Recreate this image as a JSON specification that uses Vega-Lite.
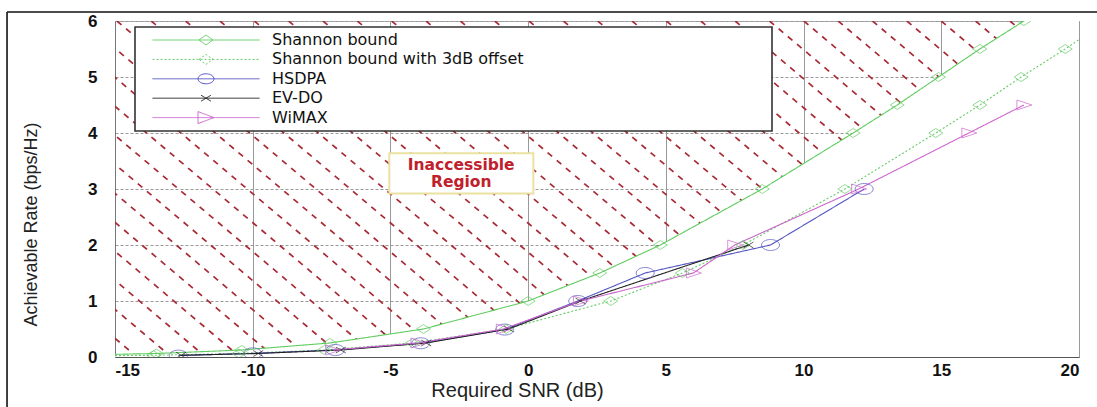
{
  "$schema": "https://vega.github.io/schema/vega-lite/v6.json",
  "width": 964,
  "height": 336,
  "autosize": "none",
  "padding": {"left": 115, "top": 21, "right": 18, "bottom": 50},
  "background": "white",
  "config": {
    "font": "Liberation Sans",
    "view": {"stroke": "#b0b0b0", "strokeWidth": 1},
    "axis": {"zindex": 1}
  },
  "datasets": {
    "curves": [
      {"series": "Shannon bound", "snr": -16.6, "rate": 0.031},
      {"series": "Shannon bound", "snr": -13.5, "rate": 0.0625},
      {"series": "Shannon bound", "snr": -10.4, "rate": 0.125},
      {"series": "Shannon bound", "snr": -7.2, "rate": 0.25},
      {"series": "Shannon bound", "snr": -3.8, "rate": 0.5},
      {"series": "Shannon bound", "snr": 0.0, "rate": 1.0},
      {"series": "Shannon bound", "snr": 2.6, "rate": 1.5},
      {"series": "Shannon bound", "snr": 4.8, "rate": 2.0},
      {"series": "Shannon bound", "snr": 8.5, "rate": 3.0},
      {"series": "Shannon bound", "snr": 11.8, "rate": 4.0},
      {"series": "Shannon bound", "snr": 13.4, "rate": 4.5},
      {"series": "Shannon bound", "snr": 14.9, "rate": 5.0},
      {"series": "Shannon bound", "snr": 16.4, "rate": 5.5},
      {"series": "Shannon bound", "snr": 18.0, "rate": 6.0},
      {"series": "Shannon bound", "snr": 19.5, "rate": 6.5},
      {"series": "Shannon bound", "snr": 21.0, "rate": 7.0},
      {"series": "Shannon bound with 3dB offset", "snr": -16.6, "rate": 0.016},
      {"series": "Shannon bound with 3dB offset", "snr": -13.6, "rate": 0.031},
      {"series": "Shannon bound with 3dB offset", "snr": -10.5, "rate": 0.0625},
      {"series": "Shannon bound with 3dB offset", "snr": -7.4, "rate": 0.125},
      {"series": "Shannon bound with 3dB offset", "snr": -4.2, "rate": 0.25},
      {"series": "Shannon bound with 3dB offset", "snr": -0.8, "rate": 0.5},
      {"series": "Shannon bound with 3dB offset", "snr": 3.0, "rate": 1.0},
      {"series": "Shannon bound with 3dB offset", "snr": 5.6, "rate": 1.5},
      {"series": "Shannon bound with 3dB offset", "snr": 7.8, "rate": 2.0},
      {"series": "Shannon bound with 3dB offset", "snr": 11.5, "rate": 3.0},
      {"series": "Shannon bound with 3dB offset", "snr": 14.8, "rate": 4.0},
      {"series": "Shannon bound with 3dB offset", "snr": 16.4, "rate": 4.5},
      {"series": "Shannon bound with 3dB offset", "snr": 17.9, "rate": 5.0},
      {"series": "Shannon bound with 3dB offset", "snr": 19.5, "rate": 5.5},
      {"series": "Shannon bound with 3dB offset", "snr": 21.0, "rate": 6.0},
      {"series": "HSDPA", "snr": -12.7, "rate": 0.025},
      {"series": "HSDPA", "snr": -10.0, "rate": 0.065},
      {"series": "HSDPA", "snr": -7.0, "rate": 0.125},
      {"series": "HSDPA", "snr": -3.9, "rate": 0.245},
      {"series": "HSDPA", "snr": -0.85, "rate": 0.49},
      {"series": "HSDPA", "snr": 1.8, "rate": 1.0},
      {"series": "HSDPA", "snr": 4.25, "rate": 1.5},
      {"series": "HSDPA", "snr": 8.8, "rate": 2.0},
      {"series": "HSDPA", "snr": 12.2, "rate": 3.0},
      {"series": "EV-DO", "snr": -12.6, "rate": 0.031},
      {"series": "EV-DO", "snr": -9.8, "rate": 0.0625},
      {"series": "EV-DO", "snr": -6.8, "rate": 0.125},
      {"series": "EV-DO", "snr": -3.7, "rate": 0.25},
      {"series": "EV-DO", "snr": -0.7, "rate": 0.5},
      {"series": "EV-DO", "snr": 1.9, "rate": 1.0},
      {"series": "EV-DO", "snr": 8.0, "rate": 2.0},
      {"series": "WiMAX", "snr": -7.1, "rate": 0.125},
      {"series": "WiMAX", "snr": -4.0, "rate": 0.25},
      {"series": "WiMAX", "snr": -0.9, "rate": 0.5},
      {"series": "WiMAX", "snr": 1.9, "rate": 1.0},
      {"series": "WiMAX", "snr": 6.0, "rate": 1.5},
      {"series": "WiMAX", "snr": 7.5, "rate": 2.0},
      {"series": "WiMAX", "snr": 12.0, "rate": 3.0},
      {"series": "WiMAX", "snr": 16.0, "rate": 4.0},
      {"series": "WiMAX", "snr": 18.0, "rate": 4.5}
    ],
    "hatch": [
      {"x": -28.647, "y": 6, "x2": -14.197, "y2": 0},
      {"x": -27.4, "y": 6, "x2": -12.95, "y2": 0},
      {"x": -26.153, "y": 6, "x2": -11.703, "y2": 0},
      {"x": -24.906, "y": 6, "x2": -10.456, "y2": 0},
      {"x": -23.659, "y": 6, "x2": -9.209, "y2": 0},
      {"x": -22.412, "y": 6, "x2": -7.962, "y2": 0},
      {"x": -21.165, "y": 6, "x2": -6.715, "y2": 0},
      {"x": -19.918, "y": 6, "x2": -5.468, "y2": 0},
      {"x": -18.671, "y": 6, "x2": -4.221, "y2": 0},
      {"x": -17.424, "y": 6, "x2": -2.974, "y2": 0},
      {"x": -16.177, "y": 6, "x2": -1.727, "y2": 0},
      {"x": -14.93, "y": 6, "x2": -0.48, "y2": 0},
      {"x": -13.683, "y": 6, "x2": 0.767, "y2": 0},
      {"x": -12.436, "y": 6, "x2": 2.014, "y2": 0},
      {"x": -11.189, "y": 6, "x2": 3.261, "y2": 0},
      {"x": -9.942, "y": 6, "x2": 4.508, "y2": 0},
      {"x": -8.695, "y": 6, "x2": 5.755, "y2": 0},
      {"x": -7.448, "y": 6, "x2": 7.002, "y2": 0},
      {"x": -6.201, "y": 6, "x2": 8.249, "y2": 0},
      {"x": -4.954, "y": 6, "x2": 9.496, "y2": 0},
      {"x": -3.707, "y": 6, "x2": 10.743, "y2": 0},
      {"x": -2.46, "y": 6, "x2": 11.99, "y2": 0},
      {"x": -1.213, "y": 6, "x2": 13.237, "y2": 0},
      {"x": 0.034, "y": 6, "x2": 14.484, "y2": 0},
      {"x": 1.281, "y": 6, "x2": 15.731, "y2": 0},
      {"x": 2.528, "y": 6, "x2": 16.978, "y2": 0},
      {"x": 3.775, "y": 6, "x2": 18.225, "y2": 0},
      {"x": 5.022, "y": 6, "x2": 19.472, "y2": 0},
      {"x": 6.269, "y": 6, "x2": 20.719, "y2": 0},
      {"x": 7.516, "y": 6, "x2": 21.966, "y2": 0},
      {"x": 8.763, "y": 6, "x2": 23.213, "y2": 0},
      {"x": 10.01, "y": 6, "x2": 24.46, "y2": 0},
      {"x": 11.257, "y": 6, "x2": 25.707, "y2": 0},
      {"x": 12.504, "y": 6, "x2": 26.954, "y2": 0},
      {"x": 13.751, "y": 6, "x2": 28.201, "y2": 0},
      {"x": 14.998, "y": 6, "x2": 29.448, "y2": 0},
      {"x": 16.245, "y": 6, "x2": 30.695, "y2": 0},
      {"x": 17.492, "y": 6, "x2": 31.942, "y2": 0}
    ],
    "note": [{"label": "Inaccessible\nRegion"}]
  },
  "layer": [
    {
      "data": {"name": "hatch"},
      "mark": {"type": "rule", "clip": true, "color": "#a82a35", "strokeWidth": 1.7, "strokeDash": [6, 6]},
      "encoding": {
        "x": {
          "field": "x", "type": "quantitative",
          "title": "Required SNR (dB)",
          "scale": {"domain": [-15, 20], "nice": false, "zero": false},
          "axis": {
            "values": [-15, -10, -5, 0, 5, 10, 15, 20],
            "labelExpr": "'' + datum.value",
            "grid": true, "gridColor": "#999999", "gridWidth": 1,
            "ticks": false,
            "domainColor": "#555555", "domainWidth": 1.2,
            "labelFont": "Liberation Sans", "labelFontSize": 17, "labelFontWeight": "bold", "labelColor": "#111111",
            "labelPadding": 5,
            "titleFont": "Liberation Sans", "titleFontSize": 20, "titleFontWeight": "normal", "titleColor": "#222222",
            "titleX": 402, "titleY": 33, "titleBaseline": "middle", "titleAlign": "center"
          }
        },
        "x2": {"field": "x2"},
        "y": {
          "field": "y", "type": "quantitative",
          "title": "Achievable Rate (bps/Hz)",
          "scale": {"domain": [0, 6], "nice": false, "zero": false},
          "axis": {
            "values": [0, 1, 2, 3, 4, 5, 6],
            "format": "d",
            "grid": true, "gridColor": "#999999", "gridWidth": 1, "gridDash": [3, 2],
            "ticks": false,
            "domainColor": "#777777",
            "labelFont": "Liberation Sans", "labelFontSize": 17, "labelFontWeight": "bold", "labelColor": "#111111",
            "labelPadding": 18, "labelBaseline": "middle",
            "titleFont": "Liberation Sans", "titleFontSize": 18, "titleFontWeight": "normal", "titleColor": "#222222",
            "titleX": -84, "titleY": 203, "titleAngle": 270, "titleBaseline": "middle", "titleAlign": "center"
          }
        },
        "y2": {"field": "y2"}
      }
    },
    {
      "data": {"name": "curves"},
      "transform": [{"filter": "datum.series == 'Shannon bound'"}],
      "mark": {"type": "area", "clip": true, "color": "white", "opacity": 1},
      "encoding": {
        "x": {"field": "snr", "type": "quantitative", "title": "Required SNR (dB)"},
        "y": {"field": "rate", "type": "quantitative", "title": "Achievable Rate (bps/Hz)"}
      }
    },
    {
      "data": {"name": "note"},
      "mark": {"type": "rect", "fill": "white", "stroke": "#e9e2a0", "strokeWidth": 2},
      "encoding": {
        "x": {"datum": -5.04, "type": "quantitative", "title": "Required SNR (dB)"},
        "x2": {"datum": 0.19},
        "y": {"datum": 3.64, "type": "quantitative", "title": "Achievable Rate (bps/Hz)"},
        "y2": {"datum": 2.92}
      }
    },
    {
      "data": {"name": "note"},
      "mark": {"type": "text", "font": "DejaVu Sans", "fontSize": 15.5, "fontWeight": "bold", "color": "#c0202c", "lineBreak": "\n", "lineHeight": 17, "align": "center", "baseline": "middle"},
      "encoding": {
        "x": {"datum": -2.43, "type": "quantitative", "title": "Required SNR (dB)"},
        "y": {"datum": 3.42, "type": "quantitative", "title": "Achievable Rate (bps/Hz)"},
        "text": {"field": "label"}
      }
    },
    {
      "data": {"name": "curves"},
      "mark": {"type": "line", "clip": true, "strokeWidth": 1.1},
      "encoding": {
        "x": {"field": "snr", "type": "quantitative", "title": "Required SNR (dB)"},
        "y": {"field": "rate", "type": "quantitative", "title": "Achievable Rate (bps/Hz)"},
        "stroke": {
          "field": "series", "type": "nominal",
          "scale": {"domain": ["Shannon bound", "Shannon bound with 3dB offset", "HSDPA", "EV-DO", "WiMAX"], "range": ["#5fcc5f", "#66cc66", "#5555c4", "#222222", "#cc66cc"]},
          "legend": {
            "title": null, "orient": "none", "legendX": 20, "legendY": 6,
            "padding": 5, "rowPadding": 3.4, "symbolSize": 4, "symbolStrokeWidth": 1,
            "labelOffset": 116, "labelFont": "DejaVu Sans", "labelFontSize": 16, "labelColor": "#111111", "labelLimit": 600,
            "fillColor": "white", "strokeColor": "#333333",
            "encode": {"legend": {"update": {"strokeWidth": {"value": 1.6}}}, "symbols": {"update": {"fill": {"value": "transparent"}, "shape": {"scale": "shape", "field": "value"}, "strokeDash": {"scale": "strokeDash", "field": "value"}}}}
          }
        },
        "strokeDash": {
          "field": "series", "type": "nominal",
          "scale": {"domain": ["Shannon bound", "Shannon bound with 3dB offset", "HSDPA", "EV-DO", "WiMAX"], "range": [[1, 0], [2, 2], [1, 0], [1, 0], [1, 0]]},
          "legend": {
            "title": null, "orient": "none", "legendX": 20, "legendY": 6,
            "padding": 5, "rowPadding": 3.4, "symbolSize": 4, "symbolStrokeWidth": 1,
            "labelOffset": 116, "labelFont": "DejaVu Sans", "labelFontSize": 16, "labelColor": "#111111", "labelLimit": 600,
            "fillColor": "white", "strokeColor": "#333333"
          }
        }
      }
    },
    {
      "data": {"name": "curves"},
      "transform": [{"filter": "datum.series == 'Shannon bound' || datum.series == 'Shannon bound with 3dB offset'"}],
      "mark": {"type": "point", "clip": true, "filled": false, "shape": "M -7 0 L 0 -4.5 L 7 0 L 0 4.5 Z", "size": 4, "strokeWidth": 1, "color": "#66cc66"},
      "encoding": {
        "x": {"field": "snr", "type": "quantitative", "title": "Required SNR (dB)"},
        "y": {"field": "rate", "type": "quantitative", "title": "Achievable Rate (bps/Hz)"}
      }
    },
    {
      "data": {"name": "curves"},
      "transform": [{"filter": "datum.series == 'HSDPA'"}],
      "mark": {"type": "point", "clip": true, "filled": false, "shape": "M 9 0 A 9 5.5 0 1 1 -9 0 A 9 5.5 0 1 1 9 0 Z", "size": 4, "strokeWidth": 1, "color": "#5555c4"},
      "encoding": {
        "x": {"field": "snr", "type": "quantitative", "title": "Required SNR (dB)"},
        "y": {"field": "rate", "type": "quantitative", "title": "Achievable Rate (bps/Hz)"}
      }
    },
    {
      "data": {"name": "curves"},
      "transform": [{"filter": "datum.series == 'EV-DO'"}],
      "mark": {"type": "point", "clip": true, "filled": false, "shape": "M -5 -3 L 5 3 M -5 3 L 5 -3", "size": 4, "strokeWidth": 1, "color": "#222222"},
      "encoding": {
        "x": {"field": "snr", "type": "quantitative", "title": "Required SNR (dB)"},
        "y": {"field": "rate", "type": "quantitative", "title": "Achievable Rate (bps/Hz)"}
      }
    },
    {
      "data": {"name": "curves"},
      "transform": [{"filter": "datum.series == 'WiMAX'"}],
      "mark": {"type": "point", "clip": true, "filled": false, "shape": "M -7 -5 L 8 0 L -7 5 Z", "size": 4, "strokeWidth": 1, "color": "#cc66cc"},
      "encoding": {
        "x": {"field": "snr", "type": "quantitative", "title": "Required SNR (dB)"},
        "y": {"field": "rate", "type": "quantitative", "title": "Achievable Rate (bps/Hz)"}
      }
    },
    {
      "data": {"name": "curves"},
      "transform": [{"filter": "false"}],
      "mark": {"type": "point", "filled": false, "size": 4, "strokeWidth": 1},
      "encoding": {
        "shape": {
          "field": "series", "type": "nominal",
          "scale": {"domain": ["Shannon bound", "Shannon bound with 3dB offset", "HSDPA", "EV-DO", "WiMAX"], "range": [
            "M 4.5 0 L 111.5 0 M 51 0 L 58 -5 L 65 0 L 58 5 Z M 617 0",
            "M 4.5 0 L 111.5 0 M 51 0 L 58 -5 L 65 0 L 58 5 Z M 617 0",
            "M 4.5 0 L 111.5 0 M 66 0 A 8 5 0 1 1 50 0 A 8 5 0 1 1 66 0 Z M 617 0",
            "M 4.5 0 L 111.5 0 M 53 -3 L 63 3 M 53 3 L 63 -3 M 617 0",
            "M 4.5 0 L 111.5 0 M 50 -6 L 66 0 L 50 6 Z M 617 0"
          ]},
          "legend": {
            "title": null, "orient": "none", "legendX": 20, "legendY": 6,
            "padding": 5, "rowPadding": 3.4, "symbolSize": 4, "symbolStrokeWidth": 1,
            "labelOffset": 116, "labelFont": "DejaVu Sans", "labelFontSize": 16, "labelColor": "#111111", "labelLimit": 600,
            "fillColor": "white", "strokeColor": "#333333"
          }
        },
        "stroke": {
          "field": "series", "type": "nominal",
          "scale": {"domain": ["Shannon bound", "Shannon bound with 3dB offset", "HSDPA", "EV-DO", "WiMAX"], "range": ["#5fcc5f", "#66cc66", "#5555c4", "#222222", "#cc66cc"]}
        }
      }
    },
    {
      "data": {"name": "note"},
      "mark": {"type": "rule", "clip": false, "color": "#111111", "strokeWidth": 1.6},
      "encoding": {
        "x": {"datum": -18.92, "type": "quantitative", "title": "Required SNR (dB)"},
        "x2": {"datum": 21.5},
        "y": {"datum": 6.16, "type": "quantitative", "title": "Achievable Rate (bps/Hz)"}
      }
    },
    {
      "data": {"name": "note"},
      "mark": {"type": "rule", "clip": false, "color": "#111111", "strokeWidth": 1.6},
      "encoding": {
        "x": {"datum": -18.92, "type": "quantitative", "title": "Required SNR (dB)"},
        "y": {"datum": 6.16, "type": "quantitative", "title": "Achievable Rate (bps/Hz)"},
        "y2": {"datum": -1.2}
      }
    }
  ]
}
